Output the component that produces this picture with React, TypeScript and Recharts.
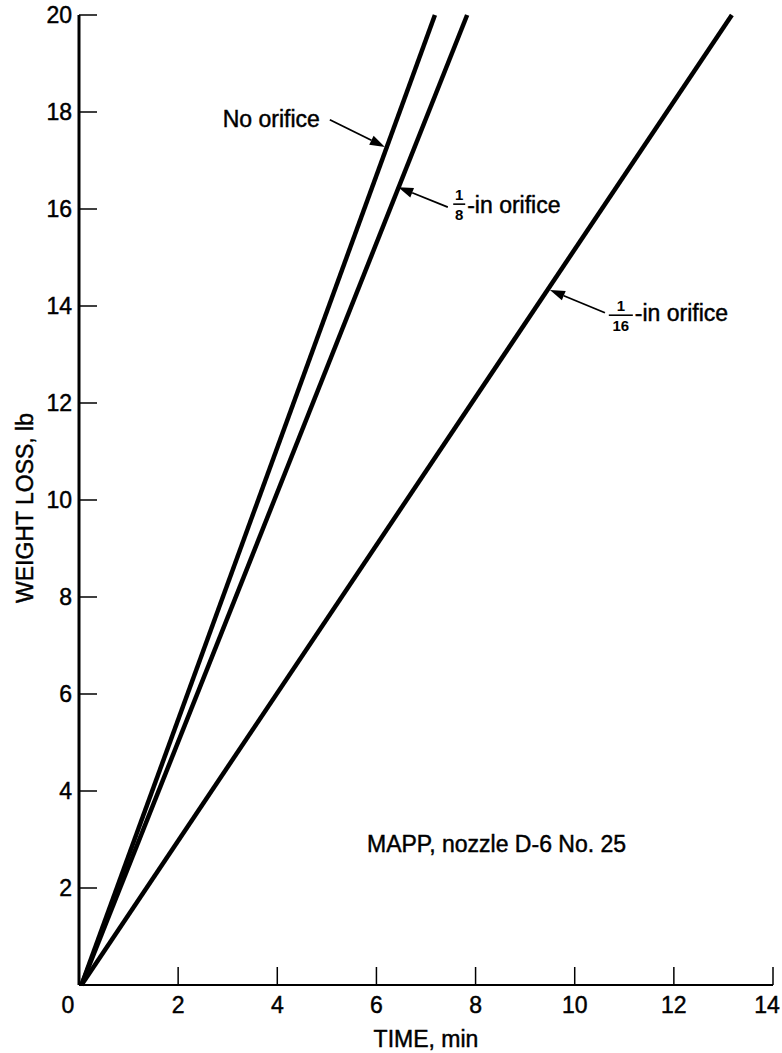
import {
  LineChart,
  Line,
  XAxis,
  YAxis,
  ReferenceLine,
  ReferenceDot,
} from "recharts";

const timeTicks = [0, 2, 4, 6, 8, 10, 12, 14];
const weightTicks = [0, 2, 4, 6, 8, 10, 12, 14, 16, 18, 20];

const noOrifice = [
  { time: 0.05, weight: 0 },
  { time: 7.18, weight: 20 },
];
const eighthInchOrifice = [
  { time: 0.05, weight: 0 },
  { time: 7.83, weight: 20 },
];
const sixteenthInchOrifice = [
  { time: 0.05, weight: 0 },
  { time: 13.17, weight: 20 },
];

const FONT = "'Liberation Sans', Arial, Helvetica, sans-serif";
const INK = "#000";

// heavier strokes on the text, like the scanned original
const heavy = { stroke: INK, strokeWidth: 0.45 };

const BottomTick = (props: any) => {
  const { x, y, payload } = props;
  let tx = x;
  if (payload.value === 0) tx = x - 11;
  if (payload.value === 14) tx = x - 6;
  return (
    <g>
      <line x1={x} y1={y} x2={x} y2={y - 18} stroke={INK} strokeWidth={1.5} />
      <text x={tx} y={y + 28} textAnchor="middle" fontSize={23} fontFamily={FONT} fill={INK} {...heavy}>
        {payload.value}
      </text>
    </g>
  );
};

const TopTick = (props: any) => {
  const { x, y } = props;
  return <line x1={x} y1={y} x2={x} y2={y + 18} stroke={INK} strokeWidth={1.5} />;
};

const LeftTick = (props: any) => {
  const { x, y, payload } = props;
  return (
    <g>
      <line x1={x} y1={y} x2={x + 18} y2={y} stroke={INK} strokeWidth={1.5} />
      {payload.value !== 0 && (
        <text x={x - 7} y={y + 8} textAnchor="end" fontSize={23} fontFamily={FONT} fill={INK} {...heavy}>
          {payload.value}
        </text>
      )}
    </g>
  );
};

const RightTick = (props: any) => {
  const { x, y } = props;
  return <line x1={x} y1={y} x2={x - 18} y2={y} stroke={INK} strokeWidth={1.5} />;
};

// arrow with a filled head at the second point of the segment
const Arrow = (props: any) => {
  const { x1, y1, x2, y2 } = props;
  const a = Math.atan2(y2 - y1, x2 - x1);
  const len = 15;
  const half = 5;
  const bx = x2 - len * Math.cos(a);
  const by = y2 - len * Math.sin(a);
  const px = -Math.sin(a) * half;
  const py = Math.cos(a) * half;
  return (
    <g>
      <line x1={x1} y1={y1} x2={bx} y2={by} stroke={INK} strokeWidth={1.8} />
      <polygon points={`${x2},${y2} ${bx + px},${by + py} ${bx - px},${by - py}`} fill={INK} />
    </g>
  );
};

const plainText = (text: string, anchor: "start" | "end") => (props: any) => (
  <text x={props.cx} y={props.cy} textAnchor={anchor} fontSize={23} fontFamily={FONT} fill={INK} {...heavy}>
    {text}
  </text>
);

const fractionLabel = (den: string, textDy: number) => (props: any) => {
  const { cx, cy } = props;
  const w = den.length > 1 ? 12 : 6;
  return (
    <g fontFamily={FONT} fill={INK}>
      <text x={cx} y={cy - 4} textAnchor="middle" fontSize={15} fontWeight="bold">1</text>
      <line x1={cx - w} y1={cy} x2={cx + w} y2={cy} stroke={INK} strokeWidth={1.6} />
      <text x={cx} y={cy + 16} textAnchor="middle" fontSize={15} fontWeight="bold">{den}</text>
      <text x={cx + w + 2} y={cy + textDy} textAnchor="start" fontSize={23} {...heavy}>-in orifice</text>
    </g>
  );
};

export default function App() {
  return (
    <div style={{ position: "absolute", left: 0, top: 0, background: "#fff" }}>
      <LineChart width={782} height={1053} margin={{ top: 15, right: 9, bottom: 0, left: 0 }}>
        <XAxis
          dataKey="time"
          type="number"
          domain={[0, 14]}
          ticks={timeTicks}
          interval={0}
          height={68}
          tickSize={0}
          tickMargin={0}
          tick={BottomTick}
          axisLine={{ stroke: INK, strokeWidth: 2 }}
          label={{
            content: (p: any) => {
              const vb = p.viewBox;
              return (
                <text x={vb.x + vb.width / 2} y={vb.y + 62} textAnchor="middle" fontSize={23} fontFamily={FONT} fill={INK} {...heavy}>
                  TIME, min
                </text>
              );
            },
          }}
        />
        <XAxis
          xAxisId="top"
          orientation="top"
          type="number"
          domain={[0, 14]}
          ticks={timeTicks}
          interval={0}
          height={0}
          tickSize={0}
          tickMargin={0}
          tick={TopTick}
          axisLine={{ stroke: INK, strokeWidth: 2 }}
        />
        <YAxis
          type="number"
          domain={[0, 20]}
          ticks={weightTicks}
          interval={0}
          width={79}
          tickSize={0}
          tickMargin={0}
          tick={LeftTick}
          axisLine={{ stroke: INK, strokeWidth: 3 }}
          label={{
            content: (p: any) => {
              const vb = p.viewBox;
              const cx = vb.x + 25;
              const cy = vb.y + vb.height / 2 + 8;
              return (
                <text
                  x={cx}
                  y={cy}
                  transform={`rotate(-90 ${cx} ${cy})`}
                  textAnchor="middle"
                  dominantBaseline="central"
                  fontSize={23}
                  fontFamily={FONT}
                  fill={INK}
                  {...heavy}
                >
                  WEIGHT LOSS, lb
                </text>
              );
            },
          }}
        />
        <YAxis
          yAxisId="right"
          orientation="right"
          type="number"
          domain={[0, 20]}
          ticks={weightTicks}
          interval={0}
          width={0}
          tickSize={0}
          tickMargin={0}
          tick={RightTick}
          axisLine={{ stroke: INK, strokeWidth: 2 }}
        />

        <Line data={noOrifice} dataKey="weight" type="linear" stroke={INK} strokeWidth={4.5} dot={false} isAnimationActive={false} />
        <Line data={eighthInchOrifice} dataKey="weight" type="linear" stroke={INK} strokeWidth={4.5} dot={false} isAnimationActive={false} />
        <Line data={sixteenthInchOrifice} dataKey="weight" type="linear" stroke={INK} strokeWidth={4.5} dot={false} isAnimationActive={false} />

        <ReferenceLine segment={[{ x: 5.06, y: 17.84 }, { x: 6.17, y: 17.28 }]} shape={Arrow} />
        <ReferenceLine segment={[{ x: 7.44, y: 16.04 }, { x: 6.44, y: 16.45 }]} shape={Arrow} />
        <ReferenceLine segment={[{ x: 10.61, y: 13.86 }, { x: 9.5, y: 14.33 }]} shape={Arrow} />

        <ReferenceDot x={4.86} y={17.69} r={0} shape={plainText("No orifice", "end")} />
        <ReferenceDot x={7.67} y={16.1} r={0} shape={fractionLabel("8", 9)} />
        <ReferenceDot x={10.93} y={13.81} r={0} shape={fractionLabel("16", 6)} />
        <ReferenceDot x={5.81} y={2.74} r={0} shape={plainText("MAPP, nozzle D-6 No. 25", "start")} />
      </LineChart>
    </div>
  );
}
